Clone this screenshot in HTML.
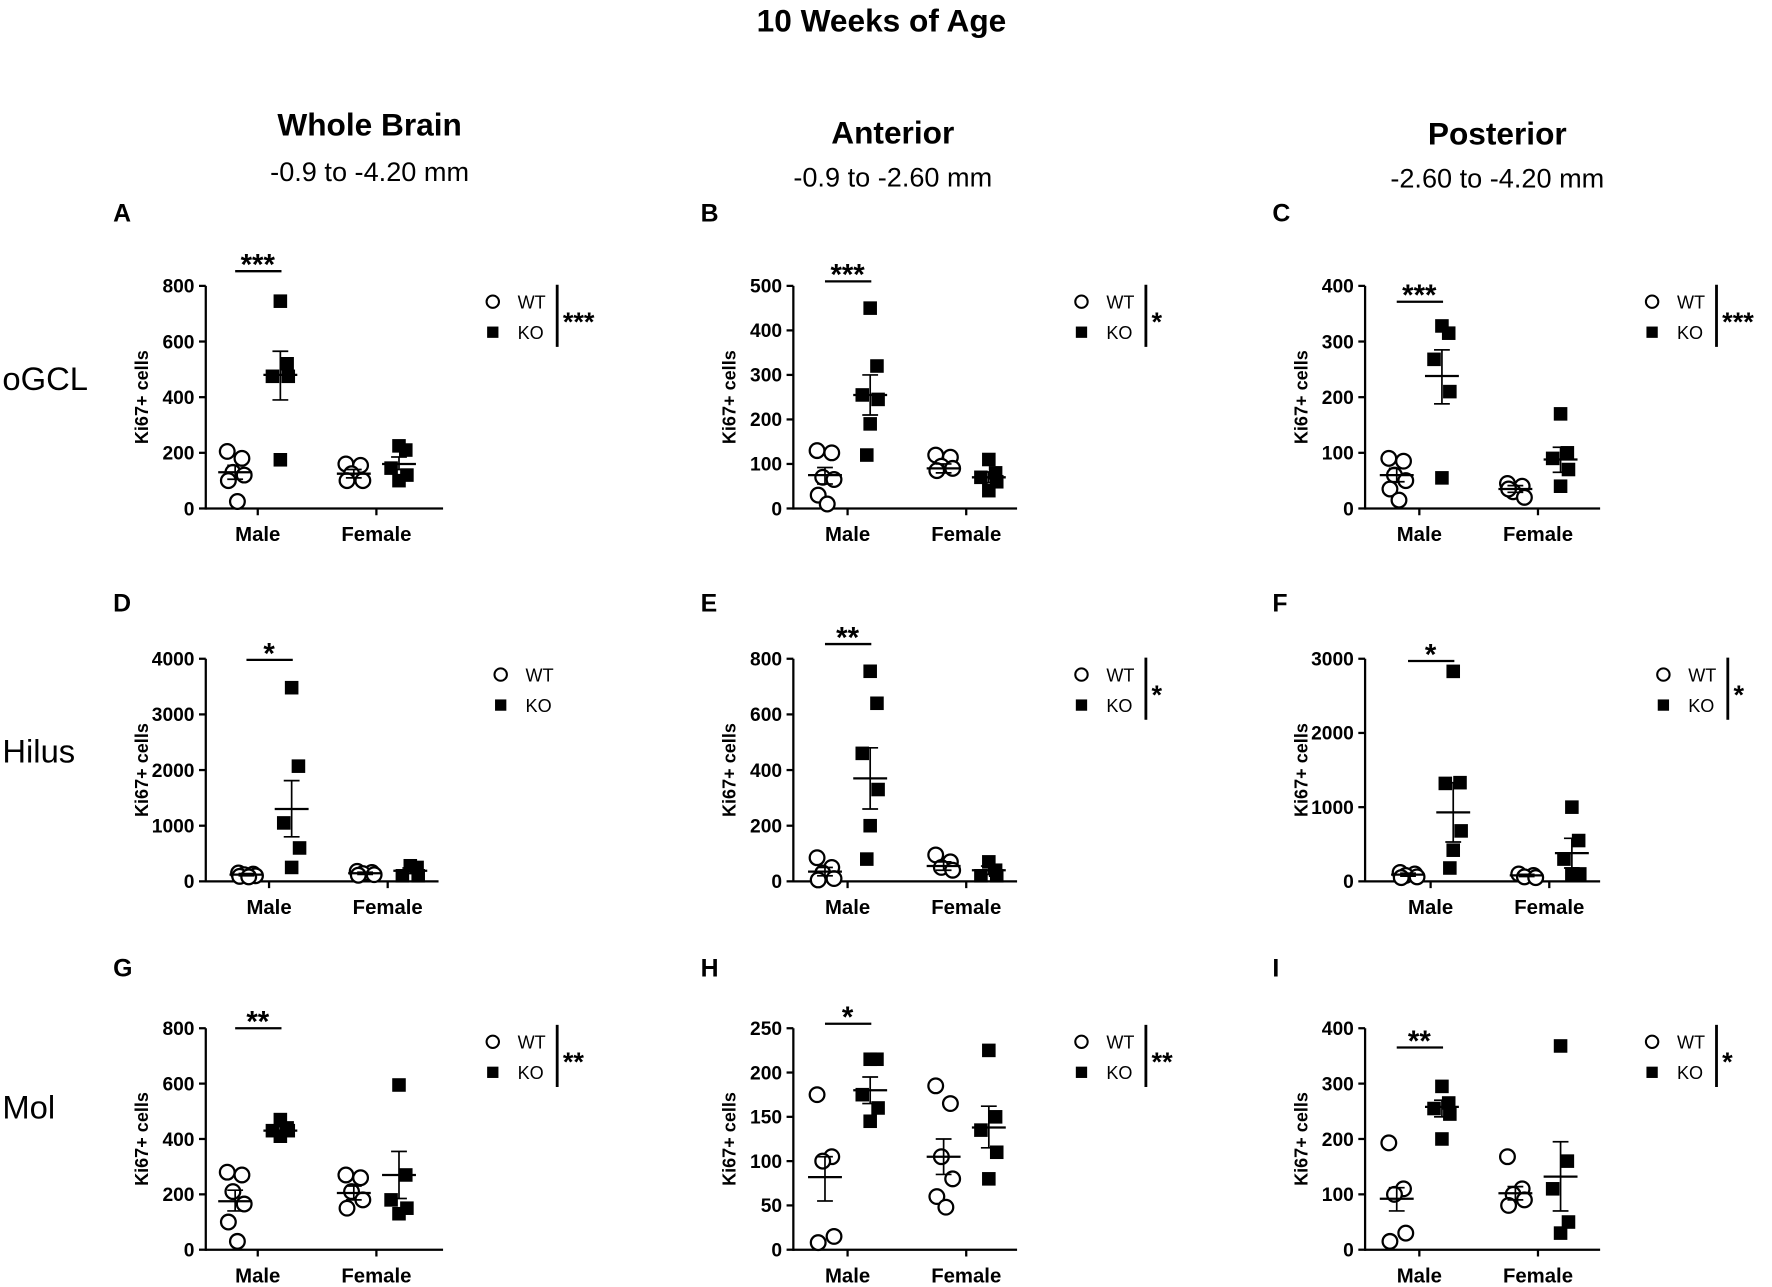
<!DOCTYPE html>
<html><head><meta charset="utf-8"><style>
html,body{margin:0;padding:0;background:#fff}
svg{display:block}
text{font-family:"Liberation Sans",Arial,sans-serif;fill:#000}
</style></head><body>
<svg id="s" width="1772" height="1287" viewBox="0 0 1568 1139" xmlns="http://www.w3.org/2000/svg">
<rect width="1568" height="1139" fill="#fff"/>
<text x="780" y="28" font-size="28" font-weight="bold" text-anchor="middle">10 Weeks of Age</text>
<text x="327" y="120" font-size="28" font-weight="bold" text-anchor="middle">Whole Brain</text>
<text x="327" y="160" font-size="24" text-anchor="middle">-0.9 to -4.20 mm</text>
<text x="790" y="127" font-size="28" font-weight="bold" text-anchor="middle">Anterior</text>
<text x="790" y="165" font-size="24" text-anchor="middle">-0.9 to -2.60 mm</text>
<text x="1325" y="128" font-size="28" font-weight="bold" text-anchor="middle">Posterior</text>
<text x="1325" y="166" font-size="24" text-anchor="middle">-2.60 to -4.20 mm</text>
<text x="2" y="345" font-size="29">oGCL</text>
<text x="2" y="675" font-size="29">Hilus</text>
<text x="2" y="990" font-size="29">Mol</text>
<g id="g"></g>
</svg>
<script>
const g=document.getElementById('g');let h='';
const P=[
{L:'A',ly0:196,ax:182,xe:392,top:253,bot:450,max:800,step:200,m:228,f:333,lx:436,legBar:'***',sig:'***',sy:240,ly:267,
 d:[[205,180,130,120,100,25],[745,520,475,475,175],[160,155,125,100,100],[225,210,145,120,100]],
 e:[[130,105,155],[480,390,565],[125,110,140],[160,140,185]]},
{L:'B',ly0:196,ax:702,xe:900,top:253,bot:450,max:500,step:100,m:750,f:855,lx:957,legBar:'*',sig:'***',sy:249,ly:267,
 d:[[130,125,70,65,30,10],[450,320,255,245,190,120],[120,115,95,90,85],[110,80,70,60,40]],
 e:[[75,55,92],[255,210,300],[90,80,100],[70,58,82]]},
{L:'C',ly0:196,ax:1208,xe:1416,top:253,bot:450,max:400,step:100,m:1256,f:1361,lx:1462,legBar:'***',sig:'***',sy:267,ly:267,
 d:[[90,85,60,50,35,15],[328,315,268,210,55],[45,40,30,20,35],[170,100,90,70,40]],
 e:[[60,48,72],[238,188,285],[35,29,41],[88,65,110]]},
{L:'D',ly0:541,ax:182,xe:388,top:583,bot:780,max:4000,step:1000,m:238,f:343,lx:443,legBar:'',sig:'*',sy:584,ly:597,
 d:[[150,130,120,100,90,80],[3480,2070,1050,600,250],[180,160,140,120,110],[280,250,100,100]],
 e:[[120,100,140],[1300,800,1810],[145,125,165],[190,140,240]]},
{L:'E',ly0:541,ax:702,xe:900,top:583,bot:780,max:800,step:200,m:750,f:855,lx:957,legBar:'*',sig:'**',sy:570,ly:597,
 d:[[85,50,30,10,5],[755,640,460,330,200,80],[95,70,50,40],[70,40,20,20]],
 e:[[35,20,50],[370,260,480],[55,40,70],[40,25,55]]},
{L:'F',ly0:541,ax:1208,xe:1416,top:583,bot:780,max:3000,step:1000,m:1266,f:1371,lx:1472,legBar:'*',sig:'*',sy:585,ly:597,
 d:[[120,100,80,60,50],[2830,1330,1320,680,420,180],[100,80,60,50],[1000,550,300,100,100]],
 e:[[90,70,110],[930,530,1330],[80,65,95],[380,180,580]]},
{L:'G',ly0:864,ax:182,xe:392,top:910,bot:1106,max:800,step:200,m:228,f:333,lx:436,legBar:'**',sig:'**',sy:910,ly:922,
 d:[[280,270,210,165,100,30],[470,440,430,430,410],[270,260,210,180,150],[595,270,180,150,130]],
 e:[[175,140,215],[430,415,445],[205,180,230],[270,185,355]]},
{L:'H',ly0:864,ax:702,xe:900,top:910,bot:1106,max:250,step:50,m:750,f:855,lx:957,legBar:'**',sig:'*',sy:906,ly:922,
 d:[[175,105,100,15,8],[215,215,175,160,145],[185,165,105,80,60,48],[225,150,135,110,80]],
 e:[[82,55,105],[180,165,195],[105,85,125],[138,115,162]]},
{L:'I',ly0:864,ax:1208,xe:1416,top:910,bot:1106,max:400,step:100,m:1256,f:1361,lx:1462,legBar:'*',sig:'**',sy:927,ly:922,
 d:[[193,110,100,30,15],[295,265,255,245,200],[168,110,100,90,80],[368,160,110,50,30]],
 e:[[92,70,112],[258,240,270],[102,90,114],[132,70,195]]}
];
const jit=[[-7,6,-2,8,-6,2],[0,6,-7,7,0,-3]];
for(const p of P){
 const Y=v=>p.bot-(v/p.max)*(p.bot-p.top);
 h+=`<text x="${p.ax-82}" y="${p.ly0}" font-size="22" font-weight="bold">${p.L}</text>`;
 h+=`<line x1="${p.ax}" y1="${p.top}" x2="${p.ax}" y2="${p.bot+1}" stroke="#000" stroke-width="2"/>`;
 h+=`<line x1="${p.ax}" y1="${p.bot}" x2="${p.xe}" y2="${p.bot}" stroke="#000" stroke-width="2"/>`;
 for(let v=0;v<=p.max;v+=p.step){const y=Y(v);
  h+=`<line x1="${p.ax-6}" y1="${y}" x2="${p.ax}" y2="${y}" stroke="#000" stroke-width="2"/>`;
  h+=`<text x="${p.ax-10}" y="${y+6}" font-size="17" font-weight="bold" text-anchor="end">${v}</text>`;}
 for(const [x,t] of [[p.m,'Male'],[p.f,'Female']]){
  h+=`<line x1="${x}" y1="${p.bot}" x2="${x}" y2="${p.bot+6}" stroke="#000" stroke-width="2"/>`;
  h+=`<text x="${x}" y="${p.bot+29}" font-size="18" font-weight="bold" text-anchor="middle">${t}</text>`;}
 const cy=(p.top+p.bot)/2;
 h+=`<text transform="translate(${p.ax-51},${cy}) rotate(-90)" font-size="16" font-weight="bold" text-anchor="middle">Ki67+ cells</text>`;
 const cx=[p.m-20,p.m+20,p.f-20,p.f+20];
 for(let k=0;k<4;k++){
  const wt=k%2==0;
  p.d[k].forEach((v,i)=>{const x=cx[k]+(wt?jit[0][i]:jit[1][i]),y=Y(v);
   if(wt)h+=`<circle cx="${x}" cy="${y}" r="6.5" fill="#fff" stroke="#000" stroke-width="2"/>`;
   else h+=`<rect x="${x-6}" y="${y-6}" width="12" height="12" fill="#000"/>`;});
  const [mn,lo,hi]=p.e[k];
  h+=`<line x1="${cx[k]-15}" y1="${Y(mn)}" x2="${cx[k]+15}" y2="${Y(mn)}" stroke="#000" stroke-width="2"/>`;
  h+=`<line x1="${cx[k]}" y1="${Y(lo)}" x2="${cx[k]}" y2="${Y(hi)}" stroke="#000" stroke-width="1.5"/>`;
  h+=`<line x1="${cx[k]-7}" y1="${Y(lo)}" x2="${cx[k]+7}" y2="${Y(lo)}" stroke="#000" stroke-width="1.5"/>`;
  h+=`<line x1="${cx[k]-7}" y1="${Y(hi)}" x2="${cx[k]+7}" y2="${Y(hi)}" stroke="#000" stroke-width="1.5"/>`;
 }
 h+=`<line x1="${p.m-20}" y1="${p.sy}" x2="${p.m+21}" y2="${p.sy}" stroke="#000" stroke-width="2"/>`;
 h+=`<text x="${p.m}" y="${p.sy+3}" font-size="26" font-weight="bold" text-anchor="middle">${p.sig}</text>`;
 h+=`<circle cx="${p.lx}" cy="${p.ly}" r="5.5" fill="#fff" stroke="#000" stroke-width="1.8"/>`;
 h+=`<text x="${p.lx+22}" y="${p.ly+6}" font-size="16">WT</text>`;
 h+=`<rect x="${p.lx-5}" y="${p.ly+22}" width="10" height="10" fill="#000"/>`;
 h+=`<text x="${p.lx+22}" y="${p.ly+33}" font-size="16">KO</text>`;
 if(p.legBar){const bx=p.lx+57;
  h+=`<line x1="${bx}" y1="${p.ly-15}" x2="${bx}" y2="${p.ly+40}" stroke="#000" stroke-width="2.5"/>`;
  h+=`<text x="${bx+5}" y="${p.ly+26}" font-size="24" font-weight="bold">${p.legBar}</text>`;}
}
g.innerHTML=h;
</script>
</body></html>
